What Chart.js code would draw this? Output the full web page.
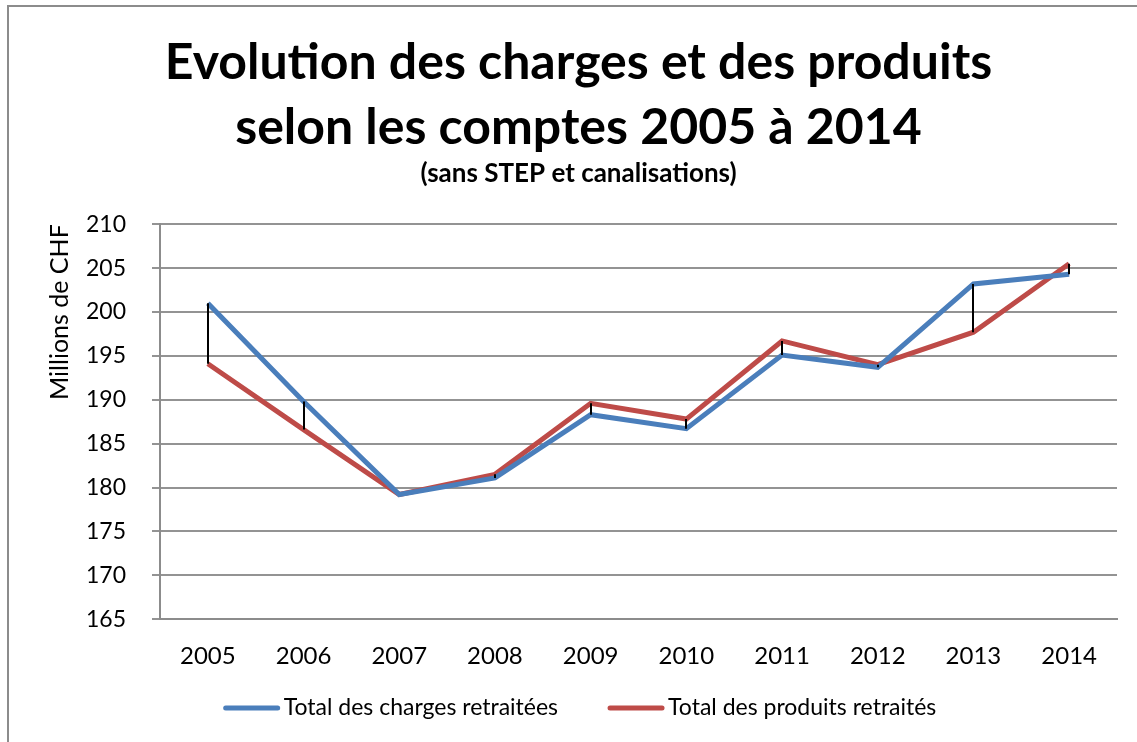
<!DOCTYPE html>
<html>
<head>
<meta charset="utf-8">
<script src="https://cdn.jsdelivr.net/npm/chart.js@4.4.1/dist/chart.umd.min.js"></script>
<style>
  html, body { margin: 0; padding: 0; background: #fff; overflow: hidden; }
  #frame { position: absolute; left: 7px; top: 5px; width: 1200px; height: 800px;
           border-top: 2px solid #8c8c8c; border-left: 2px solid #8c8c8c; pointer-events: none; }
  canvas { position: absolute; left: 0; top: 0; }
</style>
</head>
<body>
<canvas id="myChart" width="1137" height="742"></canvas>
<div id="frame"></div>
<script>
	//DATA OF THE CHART
	const years = ['2005', '2006', '2007', '2008', '2009', '2010', '2011', '2012', '2013', '2014'];
	const charges = [201.0, 189.8, 179.2, 181.1, 188.3, 186.7, 195.1, 193.7, 203.2, 204.3];
	const produits = [194.1, 186.6, 179.2, 181.5, 189.6, 187.8, 196.7, 194.0, 197.7, 205.5];
	const yTicks = [165, 170, 175, 180, 185, 190, 195, 200, 205, 210];

	const FONT = 'Lato';

	//BLACK LINES BETWEEN THE TWO SERIES (HIGH-LOW LINES)
	const hiLoLines = {
		id: 'hiLoLines',
		afterDatasetsDraw(chart) {
			const ctx = chart.ctx;
			const x = chart.scales.x;
			const y = chart.scales.y;
			ctx.save();
			ctx.strokeStyle = '#000';
			ctx.lineWidth = 2;
			years.forEach((yr, i) => {
				const px = Math.round(x.getPixelForValue(i));
				ctx.beginPath();
				ctx.moveTo(px, y.getPixelForValue(charges[i]));
				ctx.lineTo(px, y.getPixelForValue(produits[i]));
				ctx.stroke();
			});
			ctx.restore();
		}
	};

	//LEGEND DRAWN BY HAND SO THE LINE SAMPLES SIT CLOSE TO THEIR TEXT
	const lineLegend = {
		id: 'lineLegend',
		afterDraw(chart) {
			const ctx = chart.ctx;
			const sampleW = 56, textGap = 4, itemGap = 50;
			const centerX = 580, centerY = 708;
			ctx.save();
			ctx.font = '23px ' + FONT;
			const items = chart.data.datasets.map(ds => ({
				text: ds.label, color: ds.borderColor, w: ctx.measureText(ds.label).width
			}));
			let total = 0;
			items.forEach((it, i) => { total += sampleW + textGap + it.w + (i > 0 ? itemGap : 0); });
			let x = centerX - total / 2;
			ctx.textBaseline = 'middle';
			ctx.fillStyle = '#000';
			items.forEach(it => {
				ctx.strokeStyle = it.color;
				ctx.lineWidth = 5;
				ctx.lineCap = 'round';
				ctx.beginPath();
				ctx.moveTo(x + 2, centerY);
				ctx.lineTo(x + sampleW - 2, centerY);
				ctx.stroke();
				ctx.fillText(it.text, x + sampleW + textGap, centerY);
				x += sampleW + textGap + it.w + itemGap;
			});
			ctx.restore();
		}
	};

	const data = {
		labels: years,
		datasets: [{
			label: 'Total des charges retraitées',
			data: charges,
			borderColor: '#4a7ebb',
			backgroundColor: '#4a7ebb',
			borderWidth: 5,
			pointRadius: 0,
			tension: 0
		}, {
			label: 'Total des produits retraités',
			data: produits,
			borderColor: '#be4b48',
			backgroundColor: '#be4b48',
			borderWidth: 5,
			pointRadius: 0,
			tension: 0
		}]
	};

	const config = {
		type: 'line',
		data: data,
		plugins: [hiLoLines, lineLegend],
		options: {
			responsive: false,
			animation: false,
			devicePixelRatio: 1,
			layout: {
				padding: { left: 40, right: 20, top: 0, bottom: 56 }
			},
			plugins: {
				title: {
					display: true,
					text: ['Evolution des charges et des produits', 'selon les comptes 2005 à 2014'],
					color: '#000',
					font: { family: FONT, size: 50, weight: 'bold', lineHeight: 1.3 },
					padding: { top: 30, bottom: 0 }
				},
				subtitle: {
					display: true,
					text: '(sans STEP et canalisations)',
					color: '#000',
					font: { family: FONT, size: 26, weight: 'bold', lineHeight: 1.2 },
					padding: { top: -2, bottom: 35 }
				},
				legend: { display: false },
				tooltip: { enabled: false }
			},
			scales: {
				x: {
					offset: true,
					grid: { display: false },
					border: { display: true, color: '#8c8c8c', width: 2 },
					ticks: {
						color: '#000',
						font: { family: FONT, size: 24 },
						padding: 15
					}
				},
				y: {
					min: 165,
					max: 210,
					afterFit(scale) { scale.width = 120; },
					afterBuildTicks(scale) { scale.ticks = yTicks.map(v => ({ value: v })); },
					grid: { color: '#939393', lineWidth: 2, tickLength: 8 },
					border: { display: true, color: '#8c8c8c', width: 2 },
					ticks: {
						color: '#000',
						font: { family: FONT, size: 23 },
						padding: 26
					},
					title: {
						display: true,
						text: 'Millions de CHF',
						align: 'end',
						color: '#000',
						font: { family: FONT, size: 25 },
						padding: { top: 5, bottom: 0 }
					}
				}
			}
		}
	};

	const myChart = new Chart(document.getElementById('myChart'), config);
</script>
</body>
</html>
